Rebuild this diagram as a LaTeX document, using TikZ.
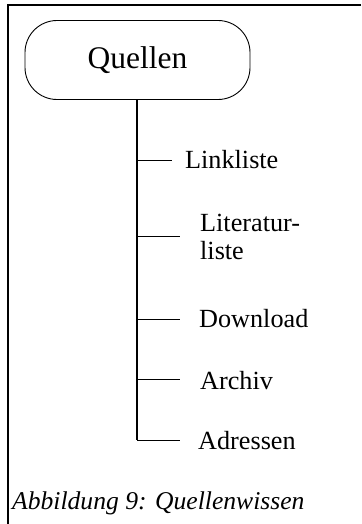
\documentclass[tikz,border=0pt]{standalone}
\usepackage{fontspec}
\setmainfont{Liberation Serif}
\begin{document}
\begin{tikzpicture}[x=1pt,y=-1pt,
  rootbox/.style={draw, line width=0.9pt, rounded corners=32pt,
    minimum width=225pt, minimum height=79pt, inner sep=0pt,
    font=\fontsize{31.5}{36}\selectfont},
  leaf/.style={anchor=base west, inner sep=0pt,
    font=\fontsize{26.2}{28.5}\selectfont},
  trunk/.style={line width=2pt},
  twig/.style={line width=0.9pt},
  frameline/.style={line width=1.4pt}]
  \useasboundingbox (0,0) rectangle (361,524);

  % frame edges
  \coordinate (ftl) at (8,5);
  \coordinate (ftr) at (361,5);
  \coordinate (fbl) at (8,524);
  \draw[frameline] (ftr) -- (ftl) -- (fbl);

  % root
  \node[rootbox] (root) at (137.5,60) {Quellen};

  % leaves
  \node[leaf] (l1) at (185,168) {Linkliste};
  \node[leaf, anchor=west, align=left] (l2) at (200,237) {Literatur-\\liste};
  \node[leaf] (l3) at (199,327) {Download};
  \node[leaf] (l4) at (200,389.3) {Archiv};
  \node[leaf] (l5) at (198,449.3) {Adressen};

  % joints on the trunk
  \coordinate (j1) at (137,160.5);
  \coordinate (j2) at (137,236.5);
  \coordinate (j3) at (137,319.5);
  \coordinate (j4) at (137,379.5);
  \coordinate (j5) at (137,440.5);

  % branch ends
  \coordinate (e1) at (172,160.5);
  \coordinate (e2) at (180,236.5);
  \coordinate (e3) at (180,319.5);
  \coordinate (e4) at (180,379.5);
  \coordinate (e5) at (180,440.5);

  \draw[trunk] (root.south -| j1) -- ([yshift=0.5pt]j5);
  \foreach \k in {1,...,5} \draw[twig] (j\k) -- (e\k);

  % caption
  \node[anchor=base west, inner sep=0pt, font=\fontsize{25.6}{30}\selectfont\itshape]
    (cap) at (12,509) {Abbildung 9: Quellenwissen};
\end{tikzpicture}
\end{document}
